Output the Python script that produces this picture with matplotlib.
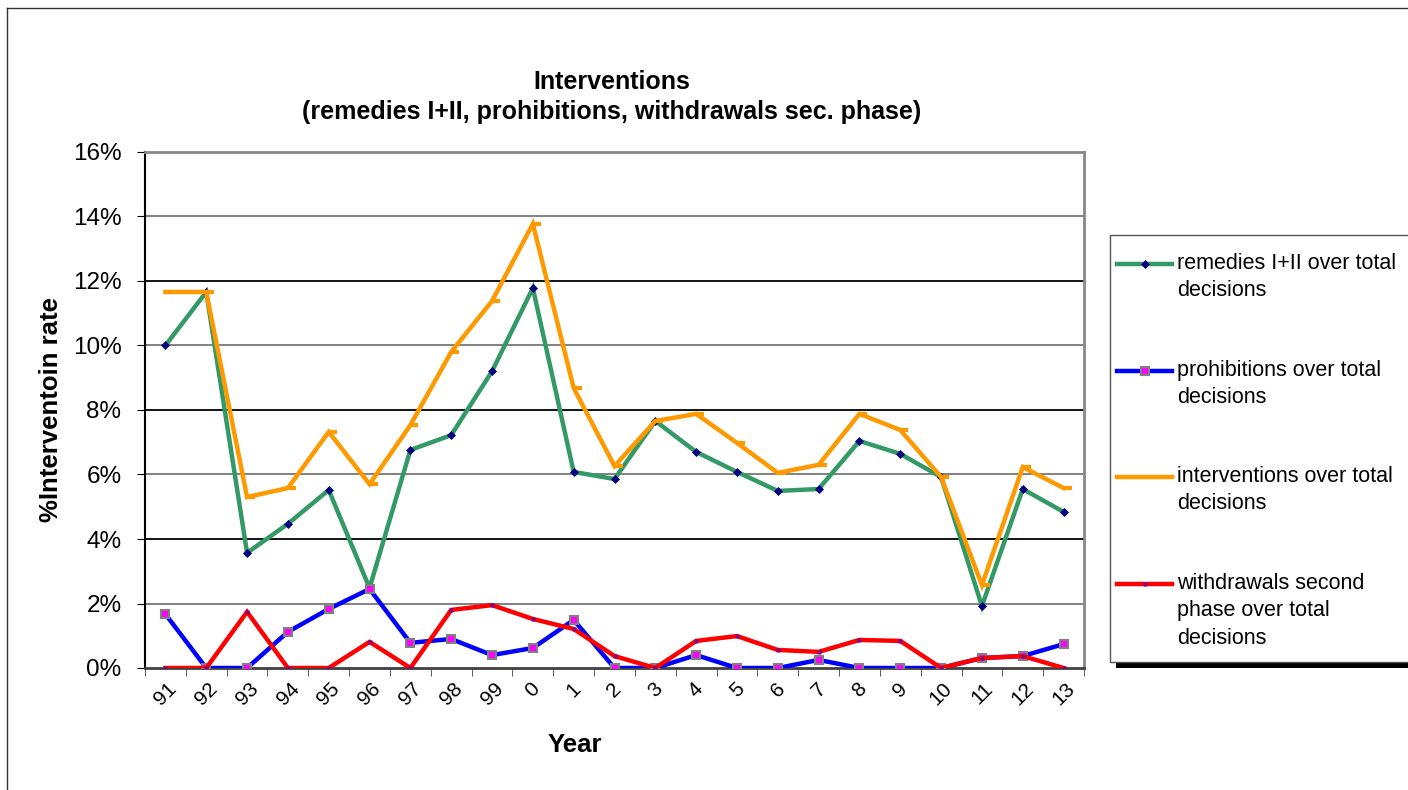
import numpy as np
import matplotlib
matplotlib.use("Agg")
import matplotlib.pyplot as plt
from matplotlib.lines import Line2D
from matplotlib.patches import Rectangle

plt.rcParams['font.family'] = ['Liberation Sans', 'DejaVu Sans']

years = ['91', '92', '93', '94', '95', '96', '97', '98', '99', '0', '1', '2',
         '3', '4', '5', '6', '7', '8', '9', '10', '11', '12', '13']

remedies = [10.0, 11.66, 3.57, 4.47, 5.52, 2.48, 6.76, 7.22, 9.2, 11.78, 6.08, 5.86,
            7.66, 6.7, 6.08, 5.49, 5.55, 7.04, 6.64, 5.92, 1.92, 5.55, 4.84]
prohibitions = [1.67, 0.0, 0.0, 1.12, 1.83, 2.45, 0.78, 0.9, 0.4, 0.62, 1.49, 0.0,
                0.0, 0.4, 0.0, 0.0, 0.25, 0.0, 0.0, 0.0, 0.31, 0.37, 0.74]
interventions = [11.66, 11.66, 5.3, 5.58, 7.32, 5.7, 7.53, 9.8, 11.38, 13.77, 8.68, 6.26,
                 7.66, 7.88, 6.98, 6.05, 6.3, 7.88, 7.38, 5.92, 2.57, 6.23, 5.58]
withdrawals = [0.0, 0.0, 1.74, 0.0, 0.0, 0.81, 0.0, 1.8, 1.95, 1.52, 1.21, 0.37,
               0.0, 0.84, 0.99, 0.56, 0.5, 0.87, 0.84, 0.0, 0.31, 0.37, 0.0]

labels = ['remedies I+II over total\ndecisions',
          'prohibitions over total\ndecisions',
          'interventions over total\ndecisions',
          'withdrawals second\nphase over total\ndecisions']

W, H = 1408, 790
fig = plt.figure(figsize=(W / 100, H / 100), dpi=100)
ax = fig.add_axes([145 / W, 1 - 668 / H, (1084 - 145) / W, (668 - 152) / H])

x = np.arange(len(years))
dash = [(0, 0), (1, 0)]

styles = [
    dict(color='#339966', marker='D', ms=4.5, mfc='#000080', mec='#000080', mew=0.5),
    dict(color='#0000FF', marker='s', ms=6, mfc='#FF00FF', mec='#808080', mew=1.5),
    dict(color='#FF9900', marker=dash, ms=12, mec='#FF9900', mew=3),
    dict(color='#FF0000', marker='s', ms=2.5, mfc='#800080', mec='none'),
]
series = [remedies, prohibitions, interventions, withdrawals]
for vals, st in zip(series, styles):
    ax.plot(x, np.array(vals) / 100.0, lw=3.2, solid_joinstyle='miter', zorder=3, **st)

ax.set_xlim(-0.5, len(years) - 0.5)
ax.set_ylim(0, 0.16)
ax.set_yticks(np.arange(0, 0.161, 0.02))
ax.set_yticklabels(['%d%%' % v for v in range(0, 17, 2)], fontsize=17.5)
ax.set_xticks(x)
ax.set_xticklabels(years, rotation=45, fontsize=15, ha='center', va='top')
ax.set_xticks(np.arange(-0.5, len(years), 1), minor=True)
ax.tick_params(axis='x', which='major', length=0, pad=8)
ax.tick_params(axis='x', which='minor', length=6, color='#404040', direction='out')
ax.tick_params(axis='y', length=6, color='#000000', direction='out', pad=11)

for i, v in enumerate(np.arange(0.02, 0.161, 0.02)):
    ax.axhline(v, color='#777777' if i % 2 == 0 else '#000000', lw=1.3, zorder=1)

ax.spines['top'].set_color('#888888')
ax.spines['right'].set_color('#888888')
ax.spines['top'].set_linewidth(2)
ax.spines['right'].set_linewidth(2)
ax.spines['left'].set_color('#000000')
ax.spines['left'].set_linewidth(1.5)
ax.spines['bottom'].set_color('#404040')
ax.spines['bottom'].set_linewidth(2)

ax.set_ylabel('%Interventoin rate', fontsize=18.5, fontweight='bold', labelpad=7)
fig.text(575 / W, 1 - 745 / H, 'Year', ha='center', va='center',
         fontsize=18.5, fontweight='bold')

fig.text(612 / W, 1 - 82 / H, 'Interventions', ha='center', va='center',
         fontsize=18, fontweight='bold')
fig.text(612 / W, 1 - 112 / H, '(remedies I+II, prohibitions, withdrawals sec. phase)',
         ha='center', va='center', fontsize=18, fontweight='bold')

# outer chart frame
fig.add_artist(Line2D([7 / W, 1.0], [1 - 8 / H, 1 - 8 / H], color='#333333', lw=1))
fig.add_artist(Line2D([7 / W, 7 / W], [1 - 8 / H, 0.0], color='#333333', lw=1))

# legend box with black shadow
fig.add_artist(Rectangle((1116 / W, 1 - 668 / H), (W - 1116) / W, (668 - 240) / H,
                         transform=fig.transFigure, facecolor='black', edgecolor='none'))
fig.add_artist(Rectangle((1110 / W, 1 - 662 / H), (W - 1110 + 5) / W, (662 - 235) / H,
                         transform=fig.transFigure, facecolor='white', edgecolor='#555555', lw=1))

ys = [264, 371, 477, 584]
for yy, lab, st in zip(ys, labels, styles):
    st2 = dict(st)
    if st2.get('marker') is dash:
        st2['marker'] = 'none'
    fig.add_artist(Line2D([1117 / W, 1172 / W], [1 - yy / H, 1 - yy / H], lw=3.2,
                          markevery=[], **st2))
    fig.add_artist(Line2D([1144.5 / W], [1 - yy / H], lw=0, **st2))
    fig.text(1177 / W, 1 - (yy - 11) / H, lab, ha='left', va='top', fontsize=15.5,
             linespacing=1.4)

fig.savefig('out.png', dpi=100)
